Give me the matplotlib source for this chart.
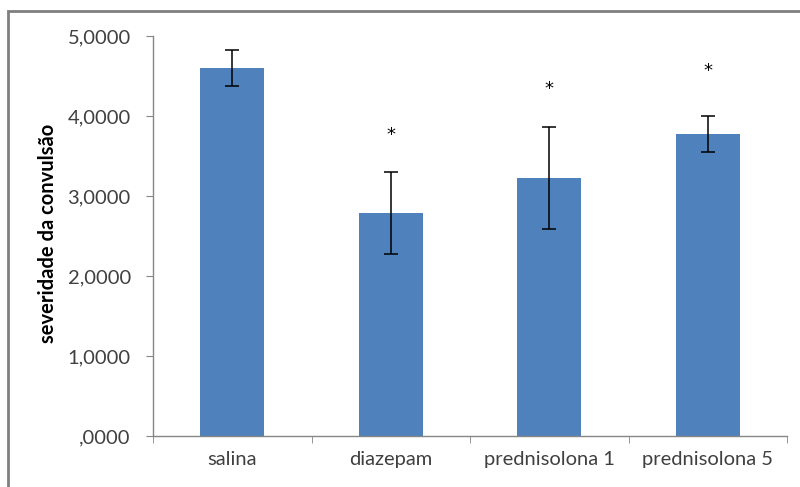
import numpy as np
import matplotlib.pyplot as plt
from matplotlib.patches import Rectangle
from matplotlib.ticker import FuncFormatter, FixedLocator

# Data
categories = ["salina", "diazepam", "prednisolona 1", "prednisolona 5"]
values = [4.60, 2.79, 3.225, 3.775]
errors = [0.225, 0.51, 0.64, 0.225]
star_y = [None, 3.76, 4.34, 4.56]
ylabel = "severidade da convulsão"

bar_color = "#4F81BD"
axis_color = "#868686"
text_color = "#404040"
plt.rcParams['font.family'] = ['Lato', 'DejaVu Sans']

fig = plt.figure(figsize=(8, 4.87), dpi=100)
ax = fig.add_axes([153/800, 1 - 436/487, 634/800, 400/487])

x = np.arange(len(categories))
ax.bar(x, values, width=0.404, color=bar_color, zorder=2)
ax.errorbar(x, values, yerr=errors, fmt="none", ecolor="black",
            elinewidth=1.1, capsize=5, capthick=1.1, zorder=3)
for xi, sy in zip(x, star_y):
    if sy is not None:
        ax.text(xi, sy, "*", ha="center", va="center", fontsize=13,
                color="black", family="DejaVu Sans")

ax.set_xlim(-0.5, len(categories) - 0.5)
ax.set_ylim(0, 5)
ax.set_yticks(np.arange(0, 5.01, 1.0))

def fmt(v, pos):
    s = f"{v:.4f}".replace(".", ",")
    if s.startswith("0,"):
        s = s[1:]
    return s

ax.yaxis.set_major_formatter(FuncFormatter(fmt))
ax.set_xticks(x)
ax.set_xticklabels(categories)
ax.xaxis.set_minor_locator(FixedLocator(np.arange(-0.5, len(categories), 1.0)))

for side in ["top", "right"]:
    ax.spines[side].set_visible(False)
for side in ["left", "bottom"]:
    ax.spines[side].set_color(axis_color)
    ax.spines[side].set_linewidth(1.0)

ax.tick_params(axis="y", length=5, color=axis_color, pad=11, labelsize=14.5,
               labelcolor=text_color)
ax.tick_params(axis="x", which="major", length=0, pad=11, labelsize=14.5,
               labelcolor=text_color)
ax.tick_params(axis="x", which="minor", length=5, color=axis_color)

fig.text(48/800, 1 - 233/487, ylabel, rotation=90, ha="center", va="center",
         fontsize=14.5, fontweight="bold", color="black")

# Outer chart frame
frame = Rectangle((8/800, -0.1), 1.2, 1 - 11/487 + 0.1, transform=fig.transFigure,
                  fill=False, edgecolor="#7F7F7F", linewidth=2, clip_on=False)
fig.patches.append(frame)

fig.savefig("out.png", dpi=100)
